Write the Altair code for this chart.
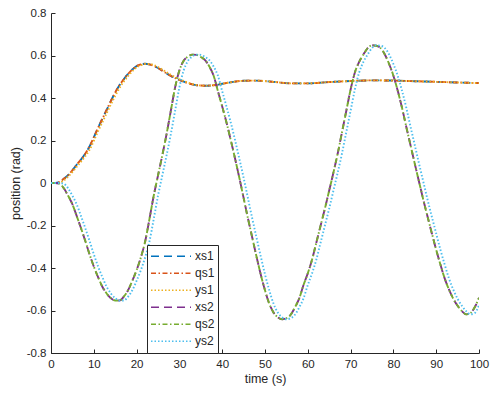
import altair as alt
import pandas as pd

# ---- data ----
t1 = [0, 1, 2, 3, 4, 5, 6, 7, 8, 9, 10, 11, 12, 13, 14, 15, 16, 17, 18, 19, 20,
      21, 22, 23, 24, 25, 26, 27, 28, 29, 30, 31, 32, 33, 34, 36, 38, 40, 42, 45,
      48, 52, 56, 60, 65, 70, 75, 80, 85, 90, 95, 100]
qs1 = [0.0, 0.0, 0.005, 0.02, 0.037, 0.06, 0.086, 0.11, 0.138, 0.172, 0.215,
       0.26, 0.302, 0.344, 0.386, 0.426, 0.46, 0.488, 0.513, 0.534, 0.55,
       0.558, 0.561, 0.558, 0.551, 0.541, 0.529, 0.516, 0.504, 0.494, 0.485,
       0.477, 0.47, 0.464, 0.46, 0.458, 0.46, 0.467, 0.474, 0.481,
       0.482, 0.476, 0.469, 0.469, 0.475, 0.48, 0.483, 0.482, 0.479, 0.476, 0.473, 0.470]
xs1 = [0.0, 0.0, 0.005, 0.02, 0.037, 0.06, 0.086, 0.11, 0.138, 0.172, 0.215,
       0.26, 0.302, 0.344, 0.386, 0.426, 0.46, 0.488, 0.513, 0.534, 0.55,
       0.558, 0.561, 0.558, 0.551, 0.541, 0.529, 0.516, 0.504, 0.494, 0.485,
       0.477, 0.47, 0.464, 0.46, 0.458, 0.46, 0.467, 0.474, 0.481,
       0.482, 0.476, 0.469, 0.469, 0.475, 0.48, 0.483, 0.482, 0.479, 0.476, 0.473, 0.470]
ys1 = [0.0, 0.0, 0.001, 0.012, 0.03, 0.052, 0.076, 0.1, 0.126, 0.156, 0.198,
       0.244, 0.286, 0.328, 0.37, 0.41, 0.447, 0.477, 0.503, 0.526, 0.544,
       0.554, 0.56, 0.56, 0.555, 0.546, 0.534, 0.521, 0.509, 0.498, 0.488,
       0.48, 0.472, 0.466, 0.461, 0.458, 0.46, 0.467, 0.474, 0.481,
       0.482, 0.476, 0.469, 0.469, 0.475, 0.48, 0.483, 0.482, 0.479, 0.476, 0.473, 0.470]

t2 = list(range(0, 101))
qs2 = [0.0, 0.0, -0.004, -0.025, -0.06, -0.10, -0.155, -0.212, -0.272, -0.335,
       -0.393, -0.443, -0.488, -0.52, -0.542, -0.553, -0.553, -0.535, -0.505, -0.46,
       -0.41, -0.35, -0.275, -0.17, -0.06, 0.035, 0.13, 0.23, 0.34, 0.45,
       0.53, 0.575, 0.595, 0.604, 0.603, 0.593, 0.578, 0.548, 0.505, 0.432,
       0.36, 0.285, 0.202, 0.115, 0.025, -0.07, -0.165, -0.255, -0.345, -0.43,
       -0.505, -0.568, -0.61, -0.632, -0.641, -0.636, -0.62, -0.585, -0.543, -0.48,
       -0.425, -0.36, -0.28, -0.2, -0.12, -0.035, 0.05, 0.14, 0.24, 0.34,
       0.44, 0.52, 0.57, 0.605, 0.635, 0.648, 0.646, 0.635, 0.605, 0.56,
       0.505, 0.435, 0.355, 0.265, 0.178, 0.09, 0.005, -0.08, -0.16, -0.238,
       -0.315, -0.385, -0.45, -0.502, -0.545, -0.578, -0.603, -0.618, -0.612, -0.585,
       -0.54]
xs2 = [0.0, 0.0, -0.004, -0.025, -0.06, -0.10, -0.155, -0.212, -0.272, -0.335,
       -0.393, -0.443, -0.488, -0.52, -0.542, -0.553, -0.553, -0.535, -0.505, -0.46,
       -0.41, -0.35, -0.275, -0.17, -0.06, 0.035, 0.13, 0.23, 0.34, 0.45,
       0.53, 0.575, 0.595, 0.604, 0.603, 0.593, 0.578, 0.548, 0.505, 0.432,
       0.36, 0.285, 0.202, 0.115, 0.025, -0.07, -0.165, -0.255, -0.345, -0.43,
       -0.505, -0.568, -0.61, -0.632, -0.641, -0.636, -0.62, -0.585, -0.543, -0.48,
       -0.425, -0.36, -0.28, -0.2, -0.12, -0.035, 0.05, 0.14, 0.24, 0.34,
       0.44, 0.52, 0.57, 0.605, 0.635, 0.648, 0.646, 0.635, 0.605, 0.56,
       0.505, 0.435, 0.355, 0.265, 0.178, 0.09, 0.005, -0.08, -0.16, -0.238,
       -0.315, -0.385, -0.45, -0.502, -0.545, -0.578, -0.603, -0.618, -0.612, -0.585,
       -0.54]
ys2 = [0.0, 0.0, 0.0, -0.004, -0.025, -0.06, -0.10, -0.155, -0.212, -0.272,
       -0.335, -0.393, -0.443, -0.488, -0.52, -0.542, -0.553, -0.553, -0.535, -0.505,
       -0.46, -0.41, -0.35, -0.275, -0.17, -0.06, 0.035, 0.13, 0.23, 0.34,
       0.45, 0.53, 0.575, 0.595, 0.604, 0.603, 0.593, 0.578, 0.548, 0.505,
       0.432, 0.36, 0.285, 0.202, 0.115, 0.025, -0.07, -0.165, -0.255, -0.345,
       -0.43, -0.505, -0.568, -0.61, -0.632, -0.641, -0.636, -0.62, -0.585, -0.543,
       -0.48, -0.425, -0.36, -0.28, -0.2, -0.12, -0.035, 0.05, 0.14, 0.24,
       0.34, 0.44, 0.52, 0.57, 0.605, 0.635, 0.648, 0.646, 0.635, 0.605,
       0.56, 0.505, 0.435, 0.355, 0.265, 0.178, 0.09, 0.005, -0.08, -0.16,
       -0.238, -0.315, -0.385, -0.45, -0.502, -0.545, -0.578, -0.603, -0.618, -0.612,
       -0.575]

names = ["xs1", "qs1", "ys1", "xs2", "qs2", "ys2"]
colors = ["#0072BD", "#D95319", "#EDB120", "#7E2F8E", "#77AC30", "#4DBEEE"]
dashes = [[8, 5], [5, 2.5, 1.5, 2.5], [1.5, 2], [8, 5], [5, 2.5, 1.5, 2.5], [1.5, 2]]
x_ticks = [0, 10, 20, 30, 40, 50, 60, 70, 80, 90, 100]
y_ticks = [-0.8, -0.6, -0.4, -0.2, 0, 0.2, 0.4, 0.6, 0.8]

series = {
    "xs1": (t1, xs1), "qs1": (t1, qs1), "ys1": (t1, ys1),
    "xs2": (t2, xs2), "qs2": (t2, qs2), "ys2": (t2, ys2),
}
rows = []
for n in names:
    ts, vs = series[n]
    for a, b in zip(ts, vs):
        rows.append({"series": n, "t": a, "v": b})
df = pd.DataFrame(rows)

TXT = "#262626"
FONT = "Liberation Sans"

x_main = alt.Axis(values=x_ticks, orient="bottom", ticks=False, grid=False, labelFlush=False,
                  domainColor=TXT, labelColor=TXT, labelFontSize=11.5, labelFont=FONT,
                  labelPadding=5, title="time (s)", titleFont=FONT, titleFontSize=12.5,
                  titleFontWeight="normal", titleColor=TXT, titlePadding=3)
y_main = alt.Axis(values=y_ticks, orient="left", ticks=False, grid=False, labelFlush=False,
                  domainColor=TXT, labelColor=TXT, labelFontSize=11.5, labelFont=FONT,
                  labelPadding=5, labelExpr="toString(round(datum.value*10)/10)",
                  title="position (rad)", titleFont=FONT, titleFontSize=12.5,
                  titleFontWeight="normal", titleColor=TXT, titlePadding=4)
x_ticks_ax = alt.Axis(values=x_ticks, orient="bottom", offset=-4, tickSize=4, ticks=True,
                      tickColor=TXT, labels=False, domain=False, grid=False, title=None)
y_ticks_ax = alt.Axis(values=y_ticks, orient="left", offset=-4, tickSize=4, ticks=True,
                      tickColor=TXT, labels=False, domain=False, grid=False, title=None)

xscale = alt.Scale(domain=[0, 100], nice=False)
yscale = alt.Scale(domain=[-0.8, 0.8], nice=False)

legend = alt.Legend(title=None, orient="none", legendX=96, legendY=232,
                    fillColor="white", strokeColor=TXT, padding=3,
                    symbolType="stroke", symbolSize=1600, symbolStrokeWidth=1.6,
                    labelFontSize=12, labelFont=FONT, labelColor=TXT,
                    labelOffset=3, clipHeight=16.5, rowPadding=0)

layers = []
for i, n in enumerate(names):
    if i == 0:
        xa, ya = x_main, y_main
    elif i == 1:
        xa, ya = x_ticks_ax, y_ticks_ax
    else:
        xa, ya = None, None
    layer = alt.Chart(df).transform_filter(alt.datum.series == n).mark_line(
        strokeWidth=1.9, interpolate="monotone", clip=True
    ).encode(
        x=alt.X("t:Q", scale=xscale, axis=xa),
        y=alt.Y("v:Q", scale=yscale, axis=ya),
        color=alt.Color("series:N", scale=alt.Scale(domain=names, range=colors), legend=legend),
        strokeDash=alt.StrokeDash("series:N", scale=alt.Scale(domain=names, range=dashes), legend=legend),
    )
    layers.append(layer)

chart = alt.layer(*layers).resolve_axis(x="independent", y="independent").properties(
    width=428, height=340,
    autosize=alt.AutoSizeParams(type="none"),
    padding={"left": 43, "top": 5, "right": 11, "bottom": 35},
    background="white",
).configure_view(stroke=None)

chart.save("out.html", embed_options={"renderer": "svg", "actions": False})
